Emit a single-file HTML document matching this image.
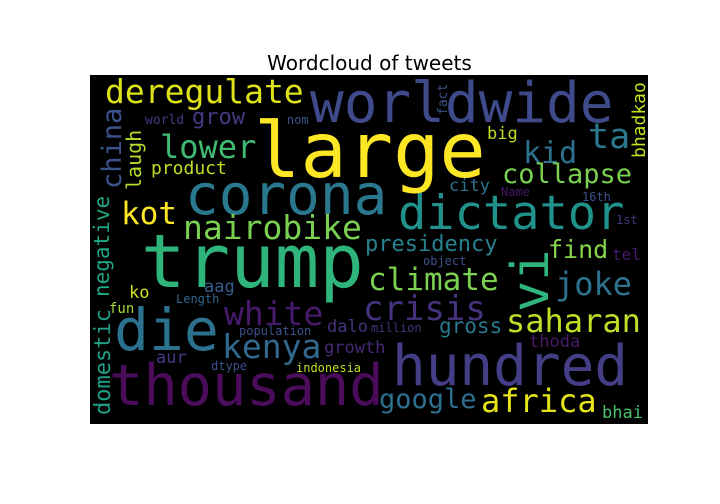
<!DOCTYPE html>
<html><head><meta charset="utf-8"><style>
html,body{margin:0;padding:0;background:#fff;width:720px;height:504px;overflow:hidden}
svg{display:block}
.w{font-family:"DejaVu Sans Mono","Liberation Mono",monospace}
</style></head><body>
<svg width="720" height="504" viewBox="0 0 720 504">
<text x="369.5" y="70" text-anchor="middle" font-family="DejaVu Sans, Liberation Sans, sans-serif" font-size="20" fill="#000">Wordcloud of tweets</text>
<rect x="90" y="75" width="558" height="349" fill="#000"/>
<g class="w">
<text x="105" y="103" font-size="33" fill="#dde318">deregulate</text>
<text x="310" y="122" font-size="56" fill="#3e4a89">worldwide</text>
<text x="254" y="177" font-size="77" fill="#fde725">large</text>
<text x="185" y="214" font-size="56" fill="#2a788e">corona</text>
<text x="398" y="229" font-size="47" fill="#21918c">dictator</text>
<text x="141" y="287" font-size="74" fill="#2fb47c">trump</text>
<text x="114" y="350" font-size="58" fill="#2c728e">die</text>
<text x="109" y="405" font-size="57" fill="#4b0c5b">thousand</text>
<text x="392" y="385" font-size="56" fill="#433e85">hundred</text>
<text x="222" y="358" font-size="33" fill="#31688e">kenya</text>
<text x="224" y="325" font-size="33" fill="#481a6c">white</text>
<text x="183" y="239" font-size="33" fill="#7ad151">nairobike</text>
<text x="121" y="224" font-size="31" fill="#fde725">kot</text>
<text x="160" y="158" font-size="32" fill="#3fbc73">lower</text>
<text x="192" y="124" font-size="22" fill="#443983">grow</text>
<text x="145" y="124" font-size="13" fill="#443983">world</text>
<text x="287" y="124" font-size="12" fill="#3b528b">nom</text>
<text x="151" y="174" font-size="18" fill="#bddf26">product</text>
<text transform="translate(141,190) rotate(-90)" font-size="20" fill="#b5de2b">laugh</text>
<text transform="translate(121,189) rotate(-90)" font-size="27" fill="#3b528b">china</text>
<text transform="translate(109,297) rotate(-90)" font-size="21" fill="#21a685">negative</text>
<text transform="translate(110,415) rotate(-90)" font-size="22" fill="#1f9e89">domestic</text>
<text transform="translate(645,158) rotate(-90)" font-size="18" fill="#c8e020">bhadkao</text>
<text transform="translate(447,115) rotate(-90)" font-size="13" fill="#3b528b">fact</text>
<text transform="translate(548,312) rotate(-90)" font-size="52" fill="#2fb47c">vi</text>
<text x="129" y="298" font-size="17" fill="#d0e11c">ko</text>
<text x="109" y="313" font-size="14" fill="#a2da37">fun</text>
<text x="204" y="292" font-size="17" fill="#35608d">aag</text>
<text x="176" y="303" font-size="12" fill="#31688e">Length</text>
<text x="239" y="335" font-size="12" fill="#3b528b">population</text>
<text x="327" y="332" font-size="17" fill="#46327e">dalo</text>
<text x="324" y="353" font-size="17" fill="#482878">growth</text>
<text x="156" y="363" font-size="17" fill="#443983">aur</text>
<text x="211" y="370" font-size="12" fill="#3b528b">dtype</text>
<text x="296" y="372" font-size="12" fill="#c2df23">indonesia</text>
<text x="371" y="332" font-size="12" fill="#46337e">million</text>
<text x="368" y="290" font-size="31" fill="#7ad151">climate</text>
<text x="363" y="320" font-size="34" fill="#46327e">crisis</text>
<text x="365" y="251" font-size="22" fill="#26828e">presidency</text>
<text x="423" y="265" font-size="12" fill="#3b528b">object</text>
<text x="548" y="258" font-size="25" fill="#86d549">find</text>
<text x="612" y="260" font-size="16" fill="#481a6c">tel</text>
<text x="555" y="295" font-size="32" fill="#2c728e">joke</text>
<text x="506" y="332" font-size="32" fill="#bddf26">saharan</text>
<text x="439" y="333" font-size="21" fill="#2a788e">gross</text>
<text x="529" y="347" font-size="17" fill="#481a6c">thoda</text>
<text x="379" y="408" font-size="27" fill="#2d708e">google</text>
<text x="481" y="412" font-size="32" fill="#e5e419">africa</text>
<text x="602" y="418" font-size="17" fill="#4ac16d">bhai</text>
<text x="582" y="201" font-size="12" fill="#3b528b">16th</text>
<text x="616" y="224" font-size="12" fill="#46327e">1st</text>
<text x="501" y="196" font-size="12" fill="#481668">Name</text>
<text x="449" y="191" font-size="17" fill="#2c728e">city</text>
<text x="487" y="139" font-size="17" fill="#bddf26">big</text>
<text x="523" y="163" font-size="30" fill="#2c728e">kid</text>
<text x="588" y="148" font-size="35" fill="#2a788e">ta</text>
<text x="502" y="183" font-size="27" fill="#7ad151">collapse</text>
</g>
</svg>
</body></html>
